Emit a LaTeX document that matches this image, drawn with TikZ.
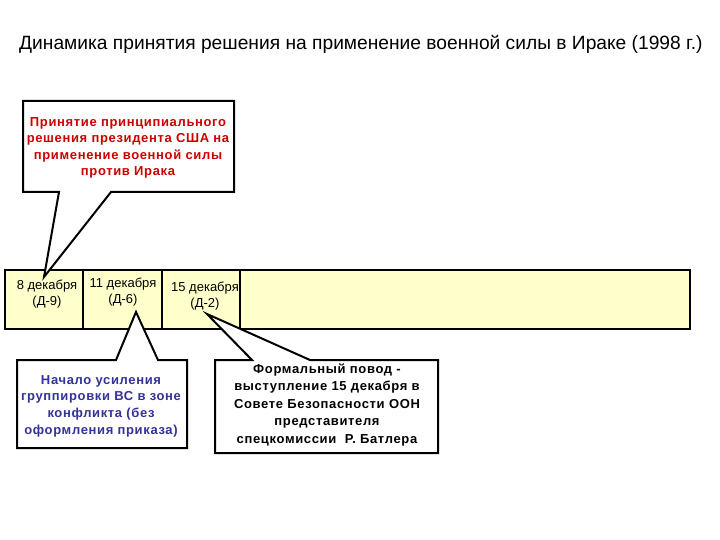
\documentclass[tikz,border=0pt]{standalone}
\usepackage{fontspec}
\setmainfont{Liberation Sans}
\definecolor{barfill}{RGB}{255,255,204}
\definecolor{redtxt}{RGB}{204,0,0}
\definecolor{bluetxt}{RGB}{51,51,153}
\tikzset{
  callout/.style={draw=black, line width=2pt, fill=white, line join=miter},
  calltext/.style={align=center, font=\bfseries\fontsize{13}{17}\selectfont\addfontfeature{LetterSpace=5}, inner sep=0pt},
  datetext/.style={align=center, font=\fontsize{13}{16}\selectfont, inner sep=0pt},
  barline/.style={line width=2.4pt},
  divline/.style={line width=1.6pt}
}
\begin{document}
\begin{tikzpicture}[x=1pt,y=-1pt]
\useasboundingbox (0,0) rectangle (720,540);
\fill[white] (0,0) rectangle (720,540);

% title
\node[anchor=base west, inner sep=0pt, font=\fontsize{19.2}{22}\selectfont] (title) at (19,50)
  {Динамика принятия решения на применение военной силы в Ираке (1998 г.)};

% timeline bar
\draw[barline, fill=barfill] (5,270) rectangle (690,329);
\node[minimum width=78pt, minimum height=59pt, inner sep=0pt] (c1) at (44,299.5) {};
\node[minimum width=79pt, minimum height=59pt, inner sep=0pt] (c2) at (122.5,299.5) {};
\node[minimum width=78pt, minimum height=59pt, inner sep=0pt] (c3) at (201,299.5) {};
\draw[divline] (c1.north east) -- (c1.south east);
\draw[divline] (c2.north east) -- (c2.south east);
\draw[divline] (c3.north east) -- (c3.south east);

\node[datetext] (d1) at (47,294) {8 декабря\\(Д-9)};
\node[datetext] (d2) at (123,292) {11 декабря\\(Д-6)};
\node[datetext] (d3) at (205,296) {15 декабря\\(Д-2)};

% pointer tips
\coordinate (t1) at (44,277);
\coordinate (t2) at (136,312);
\coordinate (t3) at (207,314);

% top callout
\draw[callout] (23,101) -- (234,101) -- (234,192) -- (111,192) -- (t1) -- (59,192) -- (23,192) -- cycle;
\node[calltext, text=redtxt, font=\bfseries\fontsize{13}{16.5}\selectfont\addfontfeature{LetterSpace=5}] (n1) at (128,148)
  {Принятие принципиального\\решения президента США на\\применение военной силы\\против Ирака};

% left bottom callout
\draw[callout] (17,360) -- (116,360) -- (t2) -- (158,360) -- (187,360) -- (187,448) -- (17,448) -- cycle;
\node[calltext, text=bluetxt, font=\bfseries\fontsize{13}{16.7}\selectfont\addfontfeature{LetterSpace=5}] (n2) at (101,406)
  {Начало усиления\\группировки ВС в зоне\\конфликта (без\\оформления приказа)};

% right bottom callout
\draw[callout] (215,360) -- (252,360) -- (t3) -- (310,360) -- (438,360) -- (438,453) -- (215,453) -- cycle;
\node[calltext, text=black, font=\bfseries\fontsize{13}{17.5}\selectfont\addfontfeature{LetterSpace=5}] (n3) at (327,405)
  {Формальный повод -\\выступление 15 декабря в\\Совете Безопасности ООН\\представителя\\спецкомиссии~ Р. Батлера};
\end{tikzpicture}
\end{document}
